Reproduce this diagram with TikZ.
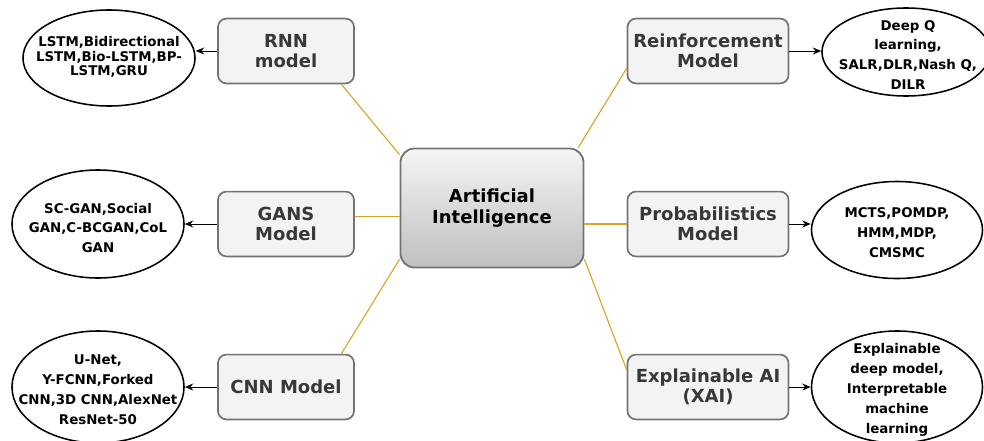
\documentclass[tikz,border=0pt]{standalone}
\usepackage{fontspec}
\setmainfont{DejaVu Sans}
\usetikzlibrary{shapes.geometric,arrows.meta}
\definecolor{boxline}{HTML}{737373}
\definecolor{boxfill}{HTML}{F3F3F3}
\definecolor{boxtext}{HTML}{383838}
\definecolor{gold}{HTML}{D9A526}

\begin{document}
\begin{tikzpicture}[x=0.025cm,y=-0.025cm,
  model/.style={draw=boxline,line width=1.2pt,fill=boxfill,rounded corners=6pt,
    minimum height=1.62cm,align=center,text=boxtext,
    font=\bfseries\fontsize{12.8}{14.2}\selectfont},
  oval/.style={draw,ellipse,line width=1.1pt,inner sep=0pt},
  names/.style={align=center,font=\bfseries\fontsize{9.5}{14.2}\selectfont},
  spoke/.style={draw=gold,line width=0.8pt},
  link/.style={-{Stealth[length=6pt,width=5pt]},line width=0.7pt}]
  \useasboundingbox (0,0) rectangle (984,440);
  \clip (0,0) rectangle (984,440);

  \node[draw=boxline,line width=1.3pt,rounded corners=10pt,top color=gray!8,bottom color=gray!50,
    minimum width=4.575cm,minimum height=2.975cm,align=center,
    font=\bfseries\fontsize{12.8}{14.5}\selectfont] (ai) at (492,208) {Artificial\\Intelligence};

  \node[model,minimum width=3.4cm] (rnn) at (286,51) {RNN\\model};
  \node[model,minimum width=3.4cm] (gans) at (286,224) {GANS\\Model};
  \node[model,minimum width=3.4cm] (cnn) at (286,387) {CNN Model};
  \node[model,minimum width=4.025cm] (rein) at (708,51) {Reinforcement\\Model};
  \node[model,minimum width=4.025cm] (prob) at (708,224) {Probabilistics\\Model};
  \node[model,minimum width=4.025cm] (xai) at (708,387) {Explainable AI\\(XAI)};

  \node[oval,minimum width=4.3cm,minimum height=2.4cm] (rnnE) at (109,58) {};
  \node[oval,minimum width=4.3cm,minimum height=2.7cm] (gansE) at (98,224) {};
  \node[oval,minimum width=4.3cm,minimum height=2.8cm] (cnnE) at (98,387) {};
  \node[oval,minimum width=4.2cm,minimum height=2.2cm] (reinE) at (906,52) {};
  \node[oval,minimum width=4.275cm,minimum height=2.425cm] (probE) at (897,230) {};
  \node[oval,minimum width=4.275cm,minimum height=2.8cm] (xaiE) at (897,387) {};

  \node[names,font=\bfseries\fontsize{9.5}{10.2}\selectfont] (rnnT) at (109,57) {LSTM,Bidirectional\\LSTM,Bio-LSTM,BP-\\LSTM,GRU};
  \node[names] (gansT) at (98,228) {SC-GAN,Social\\GAN,C-BCGAN,CoL\\GAN};
  \node[names] (cnnT) at (98,390) {U-Net,\\Y-FCNN,Forked\\CNN,3D CNN,AlexNet\\ResNet-50};
  \node[names] (reinT) at (908,55) {Deep Q\\learning,\\SALR,DLR,Nash Q,\\DILR};
  \node[names] (probT) at (897,233) {MCTS,POMDP,\\HMM,MDP,\\CMSMC};
  \node[names] (xaiT) at (897,390) {Explainable\\deep model,\\Interpretable\\machine\\learning};

  \draw[spoke] (ai.150) -- (rnn.-31);
  \draw[spoke] (ai.185) -- (ai.185 -| gans.east);
  \draw[spoke] (ai.209) -- (cnn.31);
  \draw[spoke] (ai.35) -- (rein.192);
  \draw[spoke] (prob.west) -- (prob.west -| ai.east);
  \draw[spoke] (ai.-29) -- (xai.168);

  \draw[link] (rnn.west) -- (rnn.west -| rnnE.east);
  \draw[link] (gans.west) -- (gans.west -| gansE.east);
  \draw[link] (cnn.west) -- (cnn.west -| cnnE.east);
  \draw[link] (rein.east) -- (rein.east -| reinE.west);
  \draw[link] (prob.east) -- (prob.east -| probE.west);
  \draw[link] (xai.east) -- (xai.east -| xaiE.west);
\end{tikzpicture}
\end{document}
